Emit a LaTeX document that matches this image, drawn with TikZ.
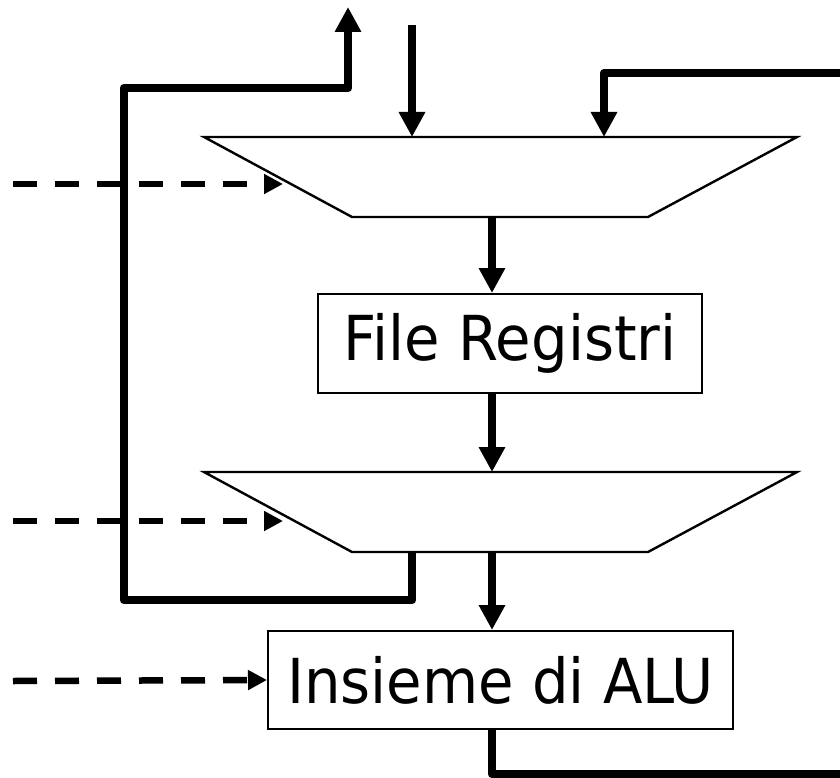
\documentclass[tikz,border=0pt]{standalone}
\usepackage{fontspec}
\newfontfamily\labelfont[FakeStretch=0.93]{DejaVu Sans}
\usetikzlibrary{arrows.meta}
\begin{document}
\begin{tikzpicture}[x=1pt,y=-1pt,
  bus/.style={line width=8.5pt, line join=round},
  busarrow/.style={bus, -{Triangle[length=25pt,width=25pt]}},
  ctrl/.style={line width=6.5pt, dash pattern=on 24pt off 18pt,
    -{Triangle[length=19pt,width=19pt]}},
  muxshape/.style={line width=2.4pt, line join=miter},
  unit/.style={draw, line width=2pt, inner sep=0pt,
    font=\labelfont\fontsize{62}{70}\selectfont}]
\useasboundingbox (0,0) rectangle (840,778);

% first multiplexer
\coordinate (m1tl) at (204,137);
\coordinate (m1tr) at (797,137);
\coordinate (m1br) at (648,217);
\coordinate (m1bl) at (352,217);
\draw[muxshape] (m1tl) -- (m1tr) -- (m1br) -- (m1bl) -- cycle;
\coordinate (m1in1) at (412,137);
\coordinate (m1in2) at (604,137);
\coordinate (m1out) at (492,217);
\coordinate (m1sel) at (283,184);

% second multiplexer
\coordinate (m2tl) at (204,472);
\coordinate (m2tr) at (797,472);
\coordinate (m2br) at (648,552);
\coordinate (m2bl) at (352,552);
\draw[muxshape] (m2tl) -- (m2tr) -- (m2br) -- (m2bl) -- cycle;
\coordinate (m2in) at (492,472);
\coordinate (m2out) at (492,552);
\coordinate (m2loop) at (412,552);
\coordinate (m2sel) at (283,521);

% functional units
\node[unit, minimum width=384pt, minimum height=99pt] (regs) at (510,343.5) {File Registri};
\node[unit, minimum width=465pt, minimum height=98pt] (alu) at (500.5,680) {Insieme di ALU};

% free ends
\coordinate (extin) at (412,25);
\coordinate (fbin) at (840,73);
\coordinate (extout) at (348,7);
\coordinate (aluout) at (840,774);
\coordinate (c1) at (13,184);
\coordinate (c2) at (13,521);
\coordinate (c3) at (13,681);

% data buses
\draw[busarrow] (extin) -- (m1in1);
\draw[busarrow] (fbin) -| (m1in2);
\draw[busarrow] (m1out) -- (m1out |- regs.north);
\draw[busarrow] (regs.south -| m2in) -- (m2in);
\draw[busarrow] (m2out) -- (m2out |- alu.north);
\draw[busarrow] (m2loop) -- ++(0,48) -- ++(-288,0) -- ++(0,-512) -- ++(224,0) -- (extout);
\draw[bus] (alu.south -| m2out) |- (aluout);

% control signals
\draw[ctrl] (c1) -- (m1sel);
\draw[ctrl] (c2) -- (m2sel);
\draw[ctrl] (c3) -- (alu.west);
\end{tikzpicture}
\end{document}
